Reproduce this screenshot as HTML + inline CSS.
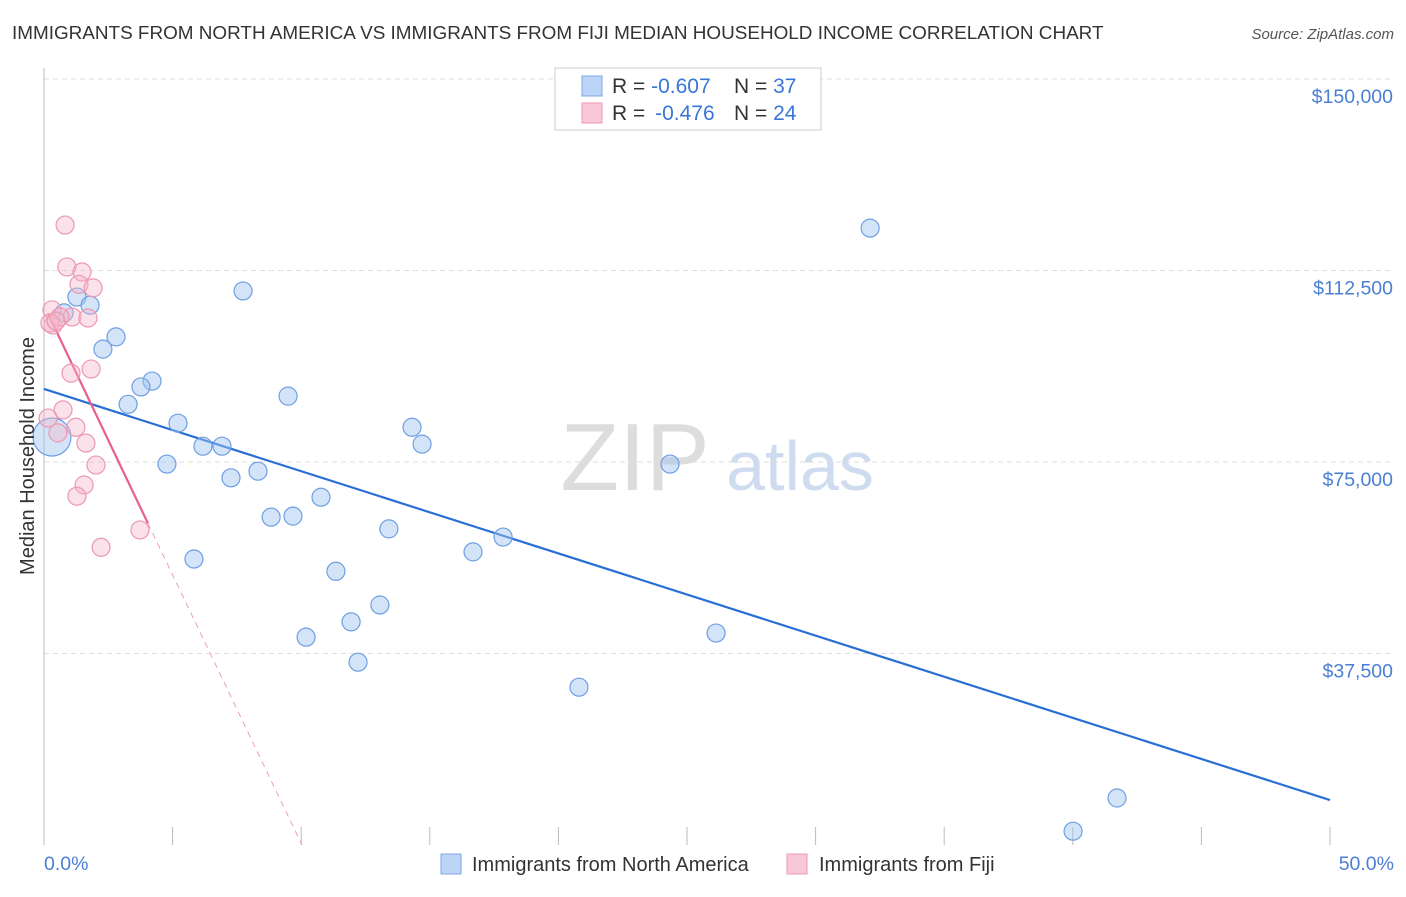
<!DOCTYPE html>
<html><head><meta charset="utf-8"><style>
body{margin:0;background:#fff;font-family:"Liberation Sans",sans-serif;}
svg text{font-family:"Liberation Sans",sans-serif;}
</style></head><body>
<svg id="chart" width="1406" height="892" xmlns="http://www.w3.org/2000/svg">
<text x="12" y="39" font-size="18.9" fill="#333">IMMIGRANTS FROM NORTH AMERICA VS IMMIGRANTS FROM FIJI MEDIAN HOUSEHOLD INCOME CORRELATION CHART</text>
<text x="1394" y="39" font-size="15" fill="#555" text-anchor="end" font-style="italic">Source: ZipAtlas.com</text>
<g><text x="635" y="490" font-size="96" fill="#ddd" font-family="Liberation Serif" text-anchor="middle">ZIP</text><text x="800" y="490" font-size="70" fill="#cfdcf0" text-anchor="middle">atlas</text></g>
<g id="grid"></g>
<g id="axes"></g>
<g id="lines"></g>
<g id="pts"></g>
<text transform="translate(34,456) rotate(-90)" font-size="20" fill="#333" text-anchor="middle">Median Household Income</text>
<text x="44" y="870" font-size="19.5" fill="#4a7fd4">0.0%</text>
<text x="1394" y="870" font-size="19.5" fill="#4a7fd4" text-anchor="end">50.0%</text>
<g>
<rect x="555" y="68" width="266" height="62" fill="#fff" stroke="#ccc"/>
<rect x="582" y="76" width="20" height="20" fill="#bcd4f5" stroke="#7aa7e8"/>
<text x="612" y="93" font-size="21" fill="#333">R = <tspan fill="#3a76d6">-0.607</tspan><tspan x="734">N = </tspan><tspan fill="#3a76d6">37</tspan></text>
<rect x="582" y="103" width="20" height="20" fill="#f8c8d6" stroke="#ee9ab4"/>
<text x="612" y="120" font-size="21" fill="#333">R = <tspan fill="#3a76d6" dx="4">-0.476</tspan><tspan x="734">N = </tspan><tspan fill="#3a76d6">24</tspan></text>
</g>
<g>
<rect x="441" y="854" width="20" height="20" fill="#bcd4f5" stroke="#7aa7e8"/>
<text x="472" y="871" font-size="20" fill="#333">Immigrants from North America</text>
<rect x="787" y="854" width="20" height="20" fill="#f8c8d6" stroke="#ee9ab4"/>
<text x="819" y="871" font-size="20" fill="#333">Immigrants from Fiji</text>
</g>
</svg>
<script>
const yTicks=[37500,75000,112500,150000];
const yTickLabels=["$37,500","$75,000","$112,500","$150,000"];
const xTicks=[0,5,10,15,20,25,30,35,40,45,50];
const naX=[1.28,1.79,0.78,2.80,2.29,4.20,3.77,3.27,5.21,6.18,6.92,4.78,8.32,7.27,9.49,7.74,8.83,9.68,10.77,5.83,10.19,11.35,11.94,12.21,13.06,13.41,14.31,14.70,16.68,17.85,20.80,24.34,26.13,32.12,41.72,40.01,0.31];
const naY=[107300,105700,104200,99500,97100,90850,89700,86300,82600,78100,78100,74600,73200,71900,87900,108500,64200,64400,68100,56000,40700,53600,43700,35800,47000,61900,81800,78500,57400,60300,30900,74600,41500,120800,9200,2700,79900];
const fjX=[0.82,0.89,1.48,1.36,1.91,0.31,1.09,1.71,0.35,0.62,1.05,1.83,0.74,0.16,1.24,0.54,1.63,2.02,1.56,1.28,3.73,2.22,0.23,0.47];
const fjY=[121400,113200,112200,109800,109100,104800,103400,103200,101800,103400,92400,93200,85200,83600,81800,80700,78700,74400,70500,68300,61700,58300,102200,102600];
const naTrend=[[0,89300],[50,8800]];
const fjTrend=[[0.16,104000],[4.04,63000]];
const fjTrendExt=[[4.04,63000],[10.03,0]];
const X=v=>44+v/50*1286;
const Y=v=>845-v/37500*191.5;
const NS="http://www.w3.org/2000/svg";
function mk(t,a,p){const e=document.createElementNS(NS,t);for(const k in a)e.setAttribute(k,a[k]);document.getElementById(p).appendChild(e);return e;}
yTicks.forEach((t,i)=>{
 const l=mk('line',{x1:44,x2:1394,y1:Y(t),y2:Y(t),stroke:'#ddd','stroke-dasharray':'5,4'},'grid');
 
 
 const tx=mk('text',{x:1393,y:Y(t)+24,'font-size':19.5,fill:'#4a7fd4','text-anchor':'end'},'grid');
 tx.textContent=yTickLabels[i];
 
 
});
const ax=mk('line',{x1:44,x2:44,y1:68,y2:845,stroke:'#bbb'},'axes');


xTicks.forEach(t=>{
 const l=mk('line',{x1:X(t),x2:X(t),y1:827,y2:845,stroke:'#bbb'},'axes');
 
 
});
function line(p,c,w,d,name){
 const l=mk('line',{x1:X(p[0][0]),y1:Y(p[0][1]),x2:X(p[1][0]),y2:Y(p[1][1]),stroke:c,'stroke-width':w},'lines');
 if(d)l.setAttribute('stroke-dasharray',d);
 
 
}
line(naTrend,'#2a6fd6',2.2,null,'north-america-trendline');
line(fjTrend,'#e8608a',2.2,null,'fiji-trendline');
line(fjTrendExt,'#e8a0b6',1,'6,5','fiji-trendline-extension');
naX.forEach((x,i)=>{
 const big=i===naX.length-1;
 const c=mk('circle',{cx:X(x),cy:Y(naY[i]),r:big?19:9,fill:'rgba(160,196,240,0.45)',stroke:'#6e9fe2','stroke-width':1.2},'pts');
 
 
});
fjX.forEach((x,i)=>{
 const c=mk('circle',{cx:X(x),cy:Y(fjY[i]),r:9,fill:'rgba(245,180,200,0.4)',stroke:'#ec98b3','stroke-width':1.2},'pts');
 
 
});
</script>
</body></html>
